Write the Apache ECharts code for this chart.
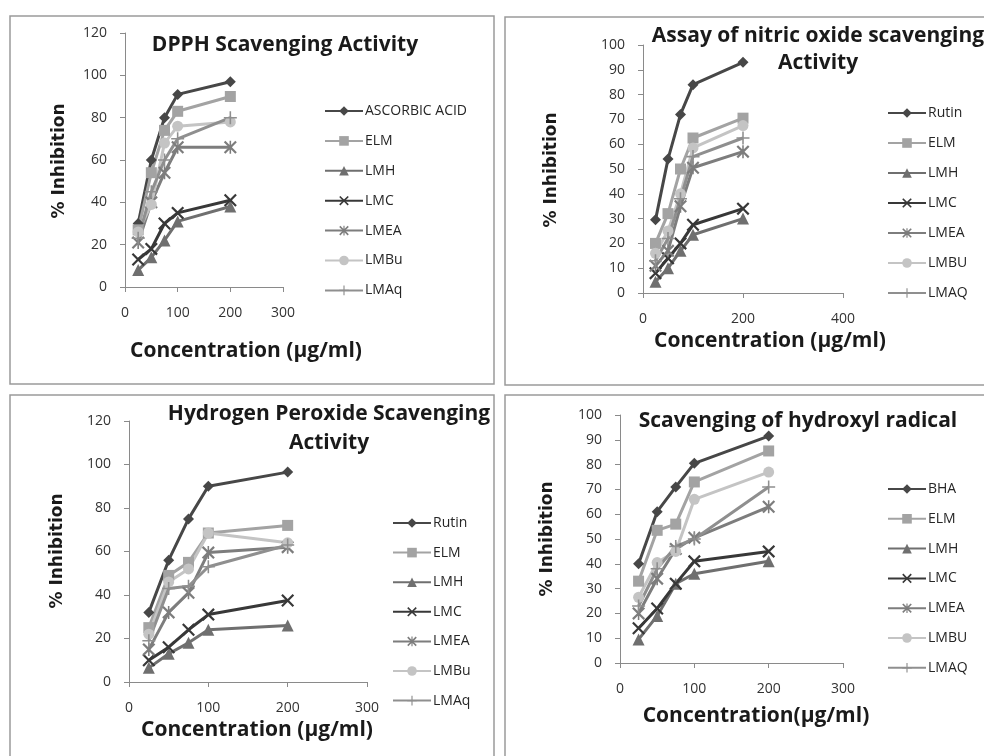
<!DOCTYPE html>
<html>
<head>
<meta charset="utf-8">
<title>Antioxidant scavenging activity</title>
<script src="https://cdn.jsdelivr.net/npm/echarts@6/dist/echarts.min.js"></script>
<style>
  html, body { margin: 0; padding: 0; background: #ffffff; }
  #chart { width: 984px; height: 756px; }
</style>
</head>
<body>
<div id="chart"></div>
<script>
// Concentrations tested (µg/ml)
const concentrations = [25, 50, 75, 100, 200];

// Legend names for each assay
const dpphNames = ['ASCORBIC ACID', 'ELM', 'LMH', 'LMC', 'LMEA', 'LMBu', 'LMAq'];
const nitricNames = ['Rutin', 'ELM', 'LMH', 'LMC', 'LMEA', 'LMBU', 'LMAQ'];
const peroxideNames = ['Rutin', 'ELM', 'LMH', 'LMC', 'LMEA', 'LMBu', 'LMAq'];
const hydroxylNames = ['BHA', 'ELM', 'LMH', 'LMC', 'LMEA', 'LMBU', 'LMAQ'];

// DPPH scavenging (% inhibition)
const dpphAscorbicAcid = [30, 60, 80, 91, 97];
const dpphELM = [27, 54, 74, 83, 90];
const dpphLMH = [8, 14, 22, 31, 38];
const dpphLMC = [13, 18, 30, 35, 41];
const dpphLMEA = [21, 40, 54, 66, 66];
const dpphLMBu = [26, 39, 68, 76, 78];
const dpphLMAq = [23, 45, 60, 70, 80];

// Nitric oxide scavenging (% inhibition)
const nitricRutin = [29.5, 54, 72, 84, 93];
const nitricELM = [20, 32, 50, 62.5, 70.5];
const nitricLMH = [4.5, 10, 17, 23.5, 30];
const nitricLMC = [8, 14, 20, 27.5, 34];
const nitricLMEA = [11, 17, 35, 50.5, 57];
const nitricLMBU = [16, 25, 40, 58.5, 67.5];
const nitricLMAQ = [13, 22, 38, 55, 62.5];

// Hydrogen peroxide scavenging (% inhibition)
const peroxideRutin = [32, 56, 75, 90, 96.5];
const peroxideELM = [25, 49, 55, 68.5, 72];
const peroxideLMH = [6.5, 13, 18, 24, 26];
const peroxideLMC = [10, 16, 24, 31, 37.5];
const peroxideLMEA = [15, 32, 41, 59.5, 62];
const peroxideLMBu = [22, 46, 52, 68.5, 64];
const peroxideLMAq = [19, 43, 44, 53, 63];

// Hydroxyl radical scavenging (% inhibition)
const hydroxylBHA = [40, 61, 71, 80.5, 91.5];
const hydroxylELM = [33, 53.5, 56, 73, 85.5];
const hydroxylLMH = [9.5, 19, 32, 36, 41];
const hydroxylLMC = [14, 22, 32, 41, 45];
const hydroxylLMEA = [20, 34, 46, 50.5, 63];
const hydroxylLMBU = [26.5, 40.5, 45, 66, 77];
const hydroxylLMAQ = [23, 38, 47, 50, 71];

// Marker glyphs drawn as thin filled outlines
const X_MARK = 'path://M0,1.2 L1.2,0 L5,3.8 L8.8,0 L10,1.2 L6.2,5 L10,8.8 L8.8,10 L5,6.2 L1.2,10 L0,8.8 L3.8,5 Z';
const STAR_MARK = 'path://M0,1.2 L1.2,0 L5,3.8 L8.8,0 L10,1.2 L6.2,5 L10,8.8 L8.8,10 L5,6.2 L1.2,10 L0,8.8 L3.8,5 Z M4.4,0 L5.6,0 L5.6,10 L4.4,10 Z';
const PLUS_MARK = 'path://M4.4,0 L5.6,0 L5.6,4.4 L10,4.4 L10,5.6 L5.6,5.6 L5.6,10 L4.4,10 L4.4,5.6 L0,5.6 L0,4.4 L4.4,4.4 Z';

// One grey style per series position (standard, ELM, LMH, LMC, LMEA, LMBu, LMAq)
const seriesStyles = [
  { color: '#474747', symbol: 'diamond', size: 11 },
  { color: '#a3a3a3', symbol: 'rect', size: 11 },
  { color: '#6f6f6f', symbol: 'triangle', size: 12 },
  { color: '#383838', symbol: X_MARK, size: 13 },
  { color: '#7d7d7d', symbol: STAR_MARK, size: 13 },
  { color: '#c4c4c4', symbol: 'circle', size: 11 },
  { color: '#8f8f8f', symbol: PLUS_MARK, size: 13 }
];

const panels = [
  { names: dpphNames, values: [dpphAscorbicAcid, dpphELM, dpphLMH, dpphLMC, dpphLMEA, dpphLMBu, dpphLMAq] },
  { names: nitricNames, values: [nitricRutin, nitricELM, nitricLMH, nitricLMC, nitricLMEA, nitricLMBU, nitricLMAQ] },
  { names: peroxideNames, values: [peroxideRutin, peroxideELM, peroxideLMH, peroxideLMC, peroxideLMEA, peroxideLMBu, peroxideLMAq] },
  { names: hydroxylNames, values: [hydroxylBHA, hydroxylELM, hydroxylLMH, hydroxylLMC, hydroxylLMEA, hydroxylLMBU, hydroxylLMAQ] }
];

// Plot areas and scales of the four panels
const layouts = [
  { grid: { left: 125, top: 33, width: 158, height: 254 }, xMax: 300, xStep: 100, yMax: 120, yStep: 20,
    legend: { left: 324, top: 103, gap: 13.9 } },
  { grid: { left: 643, top: 45, width: 200, height: 248 }, xMax: 400, xStep: 200, yMax: 100, yStep: 10,
    legend: { left: 887, top: 105, gap: 14 } },
  { grid: { left: 129, top: 421, width: 238, height: 261 }, xMax: 300, xStep: 100, yMax: 120, yStep: 20,
    legend: { left: 392, top: 515, gap: 13.6 } },
  { grid: { left: 620, top: 415, width: 223, height: 248 }, xMax: 300, xStep: 100, yMax: 100, yStep: 10,
    legend: { left: 887, top: 481, gap: 13.8 } }
];

const AXIS_GREY = '#8a8a8a';
const TICK_FONT = { fontFamily: 'Open Sans', fontSize: 14, color: '#333333' };

const grids = [], xAxes = [], yAxes = [], legends = [], series = [];

layouts.forEach(function (lay, p) {
  grids.push(Object.assign({ containLabel: false, outerBoundsMode: 'none' }, lay.grid));
  xAxes.push({
    gridIndex: p, type: 'value', min: 0, max: lay.xMax, interval: lay.xStep,
    axisLine: { show: true, onZero: false, lineStyle: { color: AXIS_GREY, width: 1 } },
    axisTick: { show: true, inside: false, length: 5, lineStyle: { color: AXIS_GREY } },
    splitLine: { show: false },
    axisLabel: Object.assign({ margin: 19 }, TICK_FONT)
  });
  yAxes.push({
    gridIndex: p, type: 'value', min: 0, max: lay.yMax, interval: lay.yStep,
    axisLine: { show: true, onZero: false, lineStyle: { color: AXIS_GREY, width: 1 } },
    axisTick: { show: true, inside: false, length: 5, lineStyle: { color: AXIS_GREY } },
    splitLine: { show: false },
    axisLabel: Object.assign({ margin: 18 }, TICK_FONT)
  });
  const panel = panels[p];
  legends.push({
    data: panel.names, orient: 'vertical', left: lay.legend.left, top: lay.legend.top,
    itemWidth: 38, itemHeight: 12, itemGap: lay.legend.gap, padding: 0,
    textStyle: { fontFamily: 'Open Sans', fontSize: 14, color: '#262626', lineHeight: 16, padding: [0, 0, 0, -3] }
  });
  panel.names.forEach(function (name, i) {
    const st = seriesStyles[i];
    series.push({
      type: 'line', name: name, xAxisIndex: p, yAxisIndex: p,
      data: concentrations.map(function (c, k) { return [c, panel.values[i][k]]; }),
      symbol: st.symbol, symbolSize: st.size, showSymbol: true,
      lineStyle: { color: st.color, width: 3 },
      itemStyle: { color: st.color, borderWidth: 0 },
      emphasis: { disabled: true }
    });
  });
});

function label(text, x, y, font, opts) {
  return {
    type: 'text', x: x, y: y, silent: true,
    style: Object.assign({ text: text, font: font, fill: '#1a1a1a',
      textAlign: 'center', textVerticalAlign: 'middle', align: 'center', verticalAlign: 'middle' }, opts || {})
  };
}

const TITLE_FONT = 'bold 21px "Open Sans"';
const XNAME_FONT = 'bold 21px "Open Sans"';
const YNAME_FONT = 'bold 17px "DejaVu Sans"';

const frames = [
  { x: 10, y: 16, w: 484, h: 368 },
  { x: 505, y: 17, w: 500, h: 368 },
  { x: 10, y: 395, w: 484, h: 400 },
  { x: 505, y: 395, w: 500, h: 400 }
];

const graphics = frames.map(function (f) {
  return { type: 'rect', shape: { x: f.x, y: f.y, width: f.w, height: f.h }, silent: true,
    style: { fill: 'none', stroke: '#9a9a9a', lineWidth: 1.5 } };
}).concat([
  label('DPPH Scavenging Activity', 285, 45, TITLE_FONT),
  label('Assay of nitric oxide scavenging\nActivity', 818, 49.5, TITLE_FONT, { lineHeight: 27 }),
  label('Hydrogen Peroxide Scavenging\nActivity', 329, 428.5, TITLE_FONT, { lineHeight: 29 }),
  label('Scavenging of hydroxyl radical', 798, 421, TITLE_FONT),

  label('Concentration (µg/ml)', 246, 351, XNAME_FONT),
  label('Concentration (µg/ml)', 770, 341, XNAME_FONT),
  label('Concentration (µg/ml)', 257, 730, XNAME_FONT),
  label('Concentration(µg/ml)', 756, 716, XNAME_FONT),

  Object.assign(label('% Inhibition', 60, 161, YNAME_FONT), { rotation: Math.PI / 2 }),
  Object.assign(label('% Inhibition', 552, 170, YNAME_FONT), { rotation: Math.PI / 2 }),
  Object.assign(label('% Inhibition', 58, 551, YNAME_FONT), { rotation: Math.PI / 2 }),
  Object.assign(label('% Inhibition', 548, 539, YNAME_FONT), { rotation: Math.PI / 2 })
]);

const chart = echarts.init(document.getElementById('chart'), null, { renderer: 'canvas' });
chart.setOption({
  animation: false,
  backgroundColor: '#ffffff',
  grid: grids,
  xAxis: xAxes,
  yAxis: yAxes,
  legend: legends,
  series: series,
  graphic: graphics
});
</script>
</body>
</html>
